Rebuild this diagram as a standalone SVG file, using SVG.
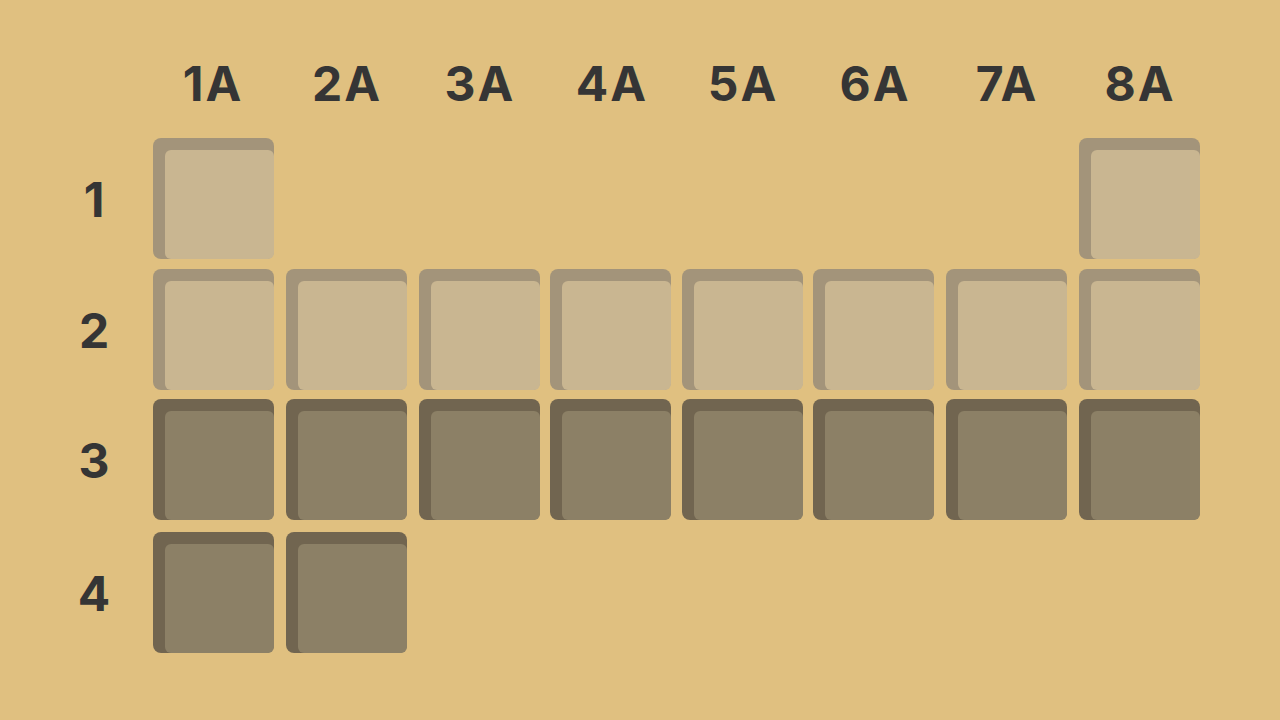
<svg xmlns="http://www.w3.org/2000/svg" width="1280" height="720" viewBox="0 0 1280 720">
<defs>
<style>
.bg{fill:#E0C080}
.lbl{font-family:Inter,"Open Sans","DejaVu Sans",sans-serif;font-weight:700;font-size:48px;fill:#353535;text-anchor:middle}
.col{letter-spacing:2px}
.lo{fill:#A3947A}
.li{fill:#C9B691}
.do{fill:#716550}
.di{fill:#8C8066}
</style>
<symbol id="light" overflow="visible"><rect class="lo" x="0" y="0" width="121" height="121" rx="8"/><rect class="li" x="12" y="12" width="109" height="109" rx="6"/></symbol>
<symbol id="dark" overflow="visible"><rect class="do" x="0" y="0" width="121" height="121" rx="8"/><rect class="di" x="12" y="12" width="109" height="109" rx="6"/></symbol>
</defs>
<rect class="bg" x="0" y="0" width="1280" height="720"/>
<g id="col-labels">
<text class="lbl col" x="213" y="101">1A</text>
<text class="lbl col" x="347" y="101">2A</text>
<text class="lbl col" x="480" y="101">3A</text>
<text class="lbl col" x="612" y="101">4A</text>
<text class="lbl col" x="743" y="101">5A</text>
<text class="lbl col" x="875" y="101">6A</text>
<text class="lbl col" x="1007" y="101">7A</text>
<text class="lbl col" x="1140" y="101">8A</text>
</g>
<g id="row-labels">
<text class="lbl" x="94" y="217">1</text>
<text class="lbl" x="94" y="348">2</text>
<text class="lbl" x="94" y="478">3</text>
<text class="lbl" x="94" y="611">4</text>
</g>
<g id="row1">
<use id="r1c1" href="#light" x="153" y="138"/>
<use id="r1c8" href="#light" x="1079" y="138"/>
</g>
<g id="row2">
<use id="r2c1" href="#light" x="153" y="269"/>
<use id="r2c2" href="#light" x="286" y="269"/>
<use id="r2c3" href="#light" x="419" y="269"/>
<use id="r2c4" href="#light" x="550" y="269"/>
<use id="r2c5" href="#light" x="682" y="269"/>
<use id="r2c6" href="#light" x="813" y="269"/>
<use id="r2c7" href="#light" x="946" y="269"/>
<use id="r2c8" href="#light" x="1079" y="269"/>
</g>
<g id="row3">
<use id="r3c1" href="#dark" x="153" y="399"/>
<use id="r3c2" href="#dark" x="286" y="399"/>
<use id="r3c3" href="#dark" x="419" y="399"/>
<use id="r3c4" href="#dark" x="550" y="399"/>
<use id="r3c5" href="#dark" x="682" y="399"/>
<use id="r3c6" href="#dark" x="813" y="399"/>
<use id="r3c7" href="#dark" x="946" y="399"/>
<use id="r3c8" href="#dark" x="1079" y="399"/>
</g>
<g id="row4">
<use id="r4c1" href="#dark" x="153" y="532"/>
<use id="r4c2" href="#dark" x="286" y="532"/>
</g>
</svg>
